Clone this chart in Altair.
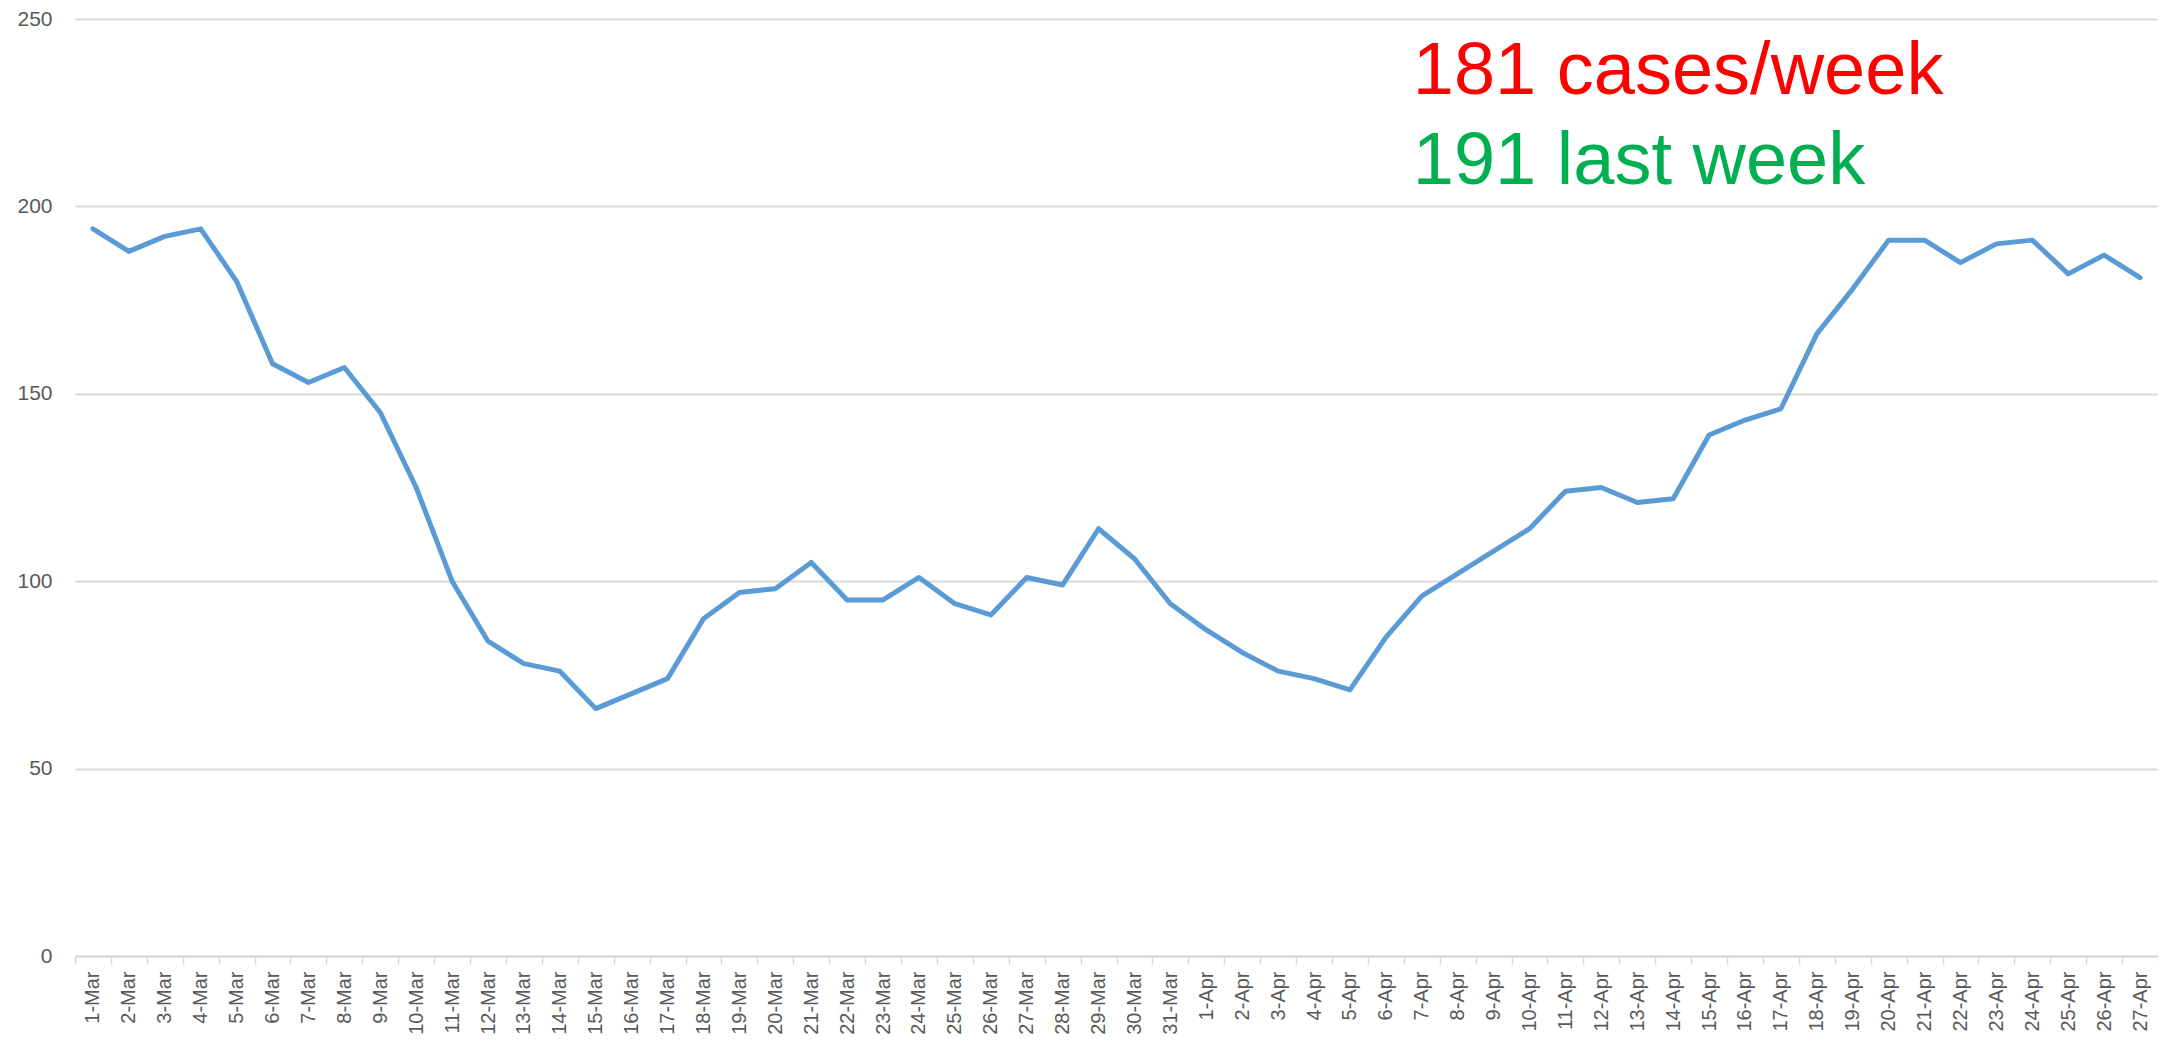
import altair as alt
import pandas as pd

dates = [
    "1-Mar", "2-Mar", "3-Mar", "4-Mar", "5-Mar", "6-Mar", "7-Mar", "8-Mar", "9-Mar", "10-Mar",
    "11-Mar", "12-Mar", "13-Mar", "14-Mar", "15-Mar", "16-Mar", "17-Mar", "18-Mar", "19-Mar", "20-Mar",
    "21-Mar", "22-Mar", "23-Mar", "24-Mar", "25-Mar", "26-Mar", "27-Mar", "28-Mar", "29-Mar", "30-Mar",
    "31-Mar",
    "1-Apr", "2-Apr", "3-Apr", "4-Apr", "5-Apr", "6-Apr", "7-Apr", "8-Apr", "9-Apr", "10-Apr",
    "11-Apr", "12-Apr", "13-Apr", "14-Apr", "15-Apr", "16-Apr", "17-Apr", "18-Apr", "19-Apr", "20-Apr",
    "21-Apr", "22-Apr", "23-Apr", "24-Apr", "25-Apr", "26-Apr", "27-Apr",
]
cases = [
    194, 188, 192, 194, 180, 158, 153, 157, 145, 125,
    100, 84, 78, 76, 66, 70, 74, 90, 97, 98,
    105, 95, 95, 101, 94, 91, 101, 99, 114, 106,
    94,
    87, 81, 76, 74, 71, 85, 96, 102, 108, 114,
    124, 125, 121, 122, 139, 143, 146, 166, 178, 191,
    191, 185, 190, 191, 182, 187, 181,
]
y_ticks = [0, 50, 100, 150, 200, 250]

ann_text = ["181 cases/week", "191 last week"]
ann_color = ["#FF0000", "#00B050"]
ann_x = ["7-Apr", "7-Apr"]
ann_y = [230.0, 206.0]

df = pd.DataFrame({"date": dates, "cases": cases, "order": list(range(len(dates)))})
ann = pd.DataFrame({"date": ann_x, "cases": ann_y, "text": ann_text, "color": ann_color})

xscale = alt.Scale(type="band", domain=dates, paddingInner=0, paddingOuter=0)
yscale = alt.Scale(domain=[0, 250], nice=False, zero=True)

x_axis = alt.Axis(
    title=None,
    labelAngle=-90,
    labelFontSize=20,
    labelFont="Liberation Sans",
    labelColor="#595959",
    labelPadding=7,
    labelOverlap=False,
    tickBand="extent",
    tickSize=8,
    tickColor="#D9D9D9",
    tickWidth=1.5,
    domainColor="#D9D9D9",
    domainWidth=2,
    grid=False,
)
y_axis = alt.Axis(
    title=None,
    values=y_ticks,
    labelFontSize=21,
    labelFont="Liberation Sans",
    labelColor="#595959",
    labelPadding=23,
    domain=False,
    ticks=False,
    gridColor="#D9D9D9",
    gridWidth=1.8,
)

x_enc = alt.X("date:N", scale=xscale, bandPosition=0.5, axis=x_axis)
y_enc = alt.Y("cases:Q", scale=yscale, axis=y_axis)

line = alt.Chart(df).mark_line(
    color="#5B9BD5", strokeWidth=5, strokeJoin="round", strokeCap="round"
).encode(x=x_enc, y=y_enc, order="order:Q")

texts = alt.Chart(ann).mark_text(
    align="left", baseline="alphabetic", fontSize=74, font="Liberation Sans", dx=-9
).encode(
    x=x_enc,
    y=y_enc,
    text="text:N",
    color=alt.Color("color:N", scale=None, legend=None),
)

chart = (
    alt.layer(line, texts)
    .properties(
        width=2083,
        height=937,
        autosize=alt.AutoSizeParams(type="none"),
        padding={"left": 67, "top": 11, "right": 0, "bottom": 83},
        background="white",
    )
    .configure_view(stroke=None)
)

chart.save("out.html", embed_options={"renderer": "svg", "actions": False})
